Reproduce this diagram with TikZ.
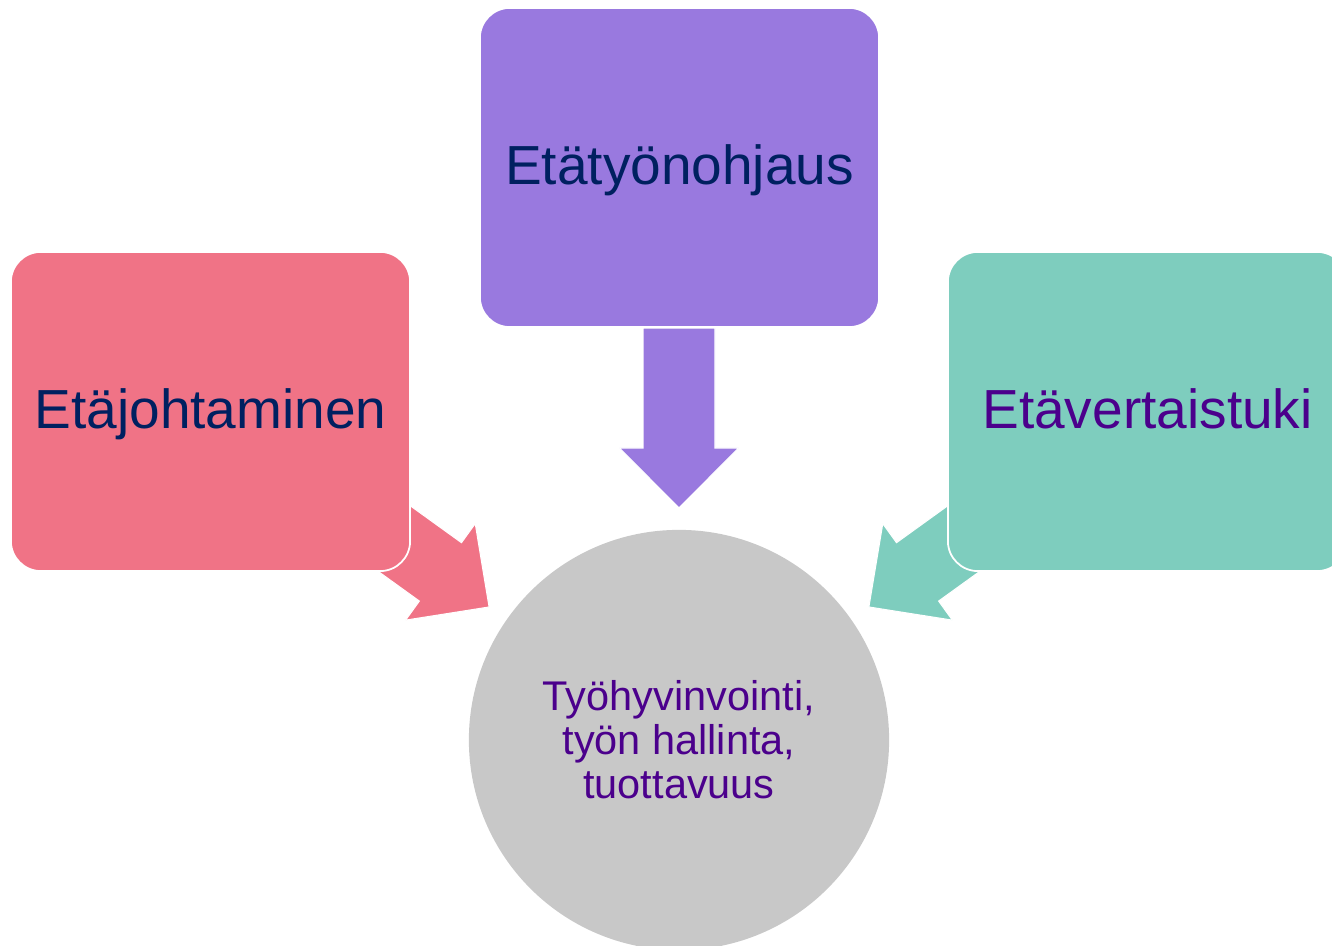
\documentclass[tikz,border=0pt]{standalone}
\usepackage{fontspec}
\setmainfont{Liberation Sans}
\definecolor{purplebox}{RGB}{153,121,223}
\definecolor{pinkbox}{RGB}{240,115,134}
\definecolor{tealbox}{RGB}{126,205,190}
\definecolor{goalgray}{RGB}{200,200,200}
\definecolor{navytext}{RGB}{0,32,96}
\definecolor{indigotext}{RGB}{75,0,140}

\begin{document}
\begin{tikzpicture}[x=0.01cm,y=-0.01cm,
	box/.style={rounded corners=0.3cm, draw=white, line width=0.5pt, minimum width=3.99cm, minimum height=3.19cm, inner sep=0pt, text height=11pt, text depth=1.36pt, font=\fontsize{15.65}{18}\selectfont},
	goal/.style={circle, fill=goalgray, minimum size=4.2cm, inner sep=0pt, align=center, text=indigotext, font=\fontsize{11.8}{12.5}\selectfont},
	blockarrow/.style={draw=white, line width=0.3pt}]
\useasboundingbox (0,0) rectangle (1332,946);
\clip (0,0) rectangle (1332,946);
% arrows first, boxes cover their tails
\foreach \px/\py/\ang/\col in {679/328/-90/purplebox, 343.1/501.7/-35.8/pinkbox, 1014.9/501.7/-144.2/tealbox}{
	\begin{scope}[shift={(\px,\py)},rotate=\ang]
	\draw[blockarrow, fill=\col] (0,36)--(120,36)--(120,59.5)--(180,0)--(120,-59.5)--(120,-36)--(0,-36)--cycle;
	\end{scope}
}
\node[box, fill=purplebox, text=navytext] (ohjaus) at (679.5,167.5) {Etätyönohjaus};
\node[box, fill=pinkbox, text=navytext] (johto) at (210.5,411.5) {Etäjohtaminen};
\node[box, fill=tealbox, text=indigotext] (vertais) at (1147.5,411.5) {Etävertaistuki};
\node[goal] (hyvin) at (679,740) {Työhyvinvointi,\\työn hallinta,\\tuottavuus};
\end{tikzpicture}
\end{document}
